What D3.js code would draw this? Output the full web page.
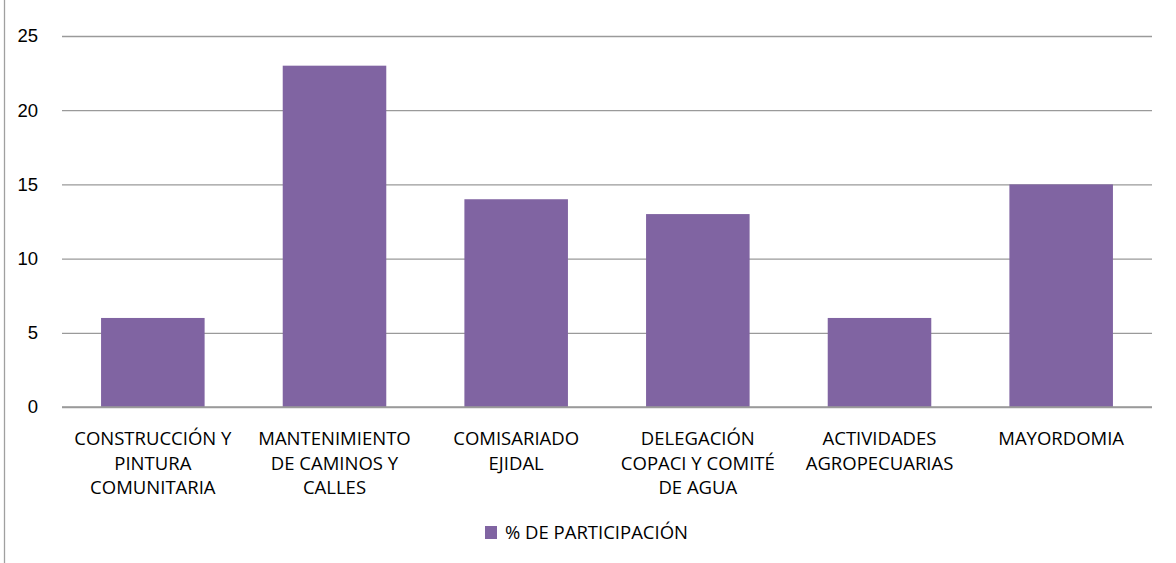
<!DOCTYPE html>
<html>
<head>
<meta charset="utf-8">
<script src="https://cdn.jsdelivr.net/npm/d3@7/dist/d3.min.js"></script>
<style>
  body { margin: 0; background: #fff; }
  svg { display: block; font-family: "Open Sans", "Liberation Sans", sans-serif; }
  .grid line { stroke: #9a9a9a; stroke-width: 1.3; }
  .grid .domain { display: none; }
  .tick text { fill: #000; }
</style>
</head>
<body>
<svg width="1176" height="563"></svg>
<script>
const categories = [
  'CONSTRUCCIÓN Y\nPINTURA\nCOMUNITARIA',
  'MANTENIMIENTO\nDE CAMINOS Y\nCALLES',
  'COMISARIADO\nEJIDAL',
  'DELEGACIÓN\nCOPACI Y COMITÉ\nDE AGUA',
  'ACTIVIDADES\nAGROPECUARIAS',
  'MAYORDOMIA'
]
const values = [6, 23, 14, 13, 6, 15]
const yTicks = [0, 5, 10, 15, 20, 25]
const seriesName = '% DE PARTICIPACIÓN'
const barColor = '#8064a2'
const fontSize = 18.5

const svg = d3.select('svg'),
  margin = {top:36,right:24,bottom:156,left:62},
  width = svg.attr('width') - margin.left - margin.right,
  height = svg.attr('height') - margin.top - margin.bottom

// left border of the chart area
svg.append('line')
  .attr('x1',4.5).attr('x2',4.5)
  .attr('y1',0).attr('y2',563)
  .attr('stroke','#a0a0a0')
  .attr('stroke-width',1.3)

const container = svg.append('g')
  .attr('transform',`translate(${margin.left},${margin.top})`)

const x = d3.scaleBand().domain(categories).range([0,width]).paddingInner(0.43).paddingOuter(0.215)
const y = d3.scaleLinear().domain([0,25]).range([height,0])

const grid = container.append('g')
  .attr('class','grid')
  .call(d3.axisLeft(y).tickValues(yTicks).tickSize(-width).tickPadding(0))
grid.selectAll('.tick text')
  .attr('x',-24)
  .attr('font-size',fontSize)
  .attr('text-anchor','end')

container.selectAll('.bar').data(values)
  .enter().append('rect')
  .attr('class','bar')
  .attr('x',(d,i) => x(categories[i]))
  .attr('width',x.bandwidth())
  .attr('y',d => y(d))
  .attr('height',d => height - y(d))
  .attr('fill',barColor)

// redraw the baseline above bars
container.append('line')
  .attr('x1',0).attr('x2',width)
  .attr('y1',y(0)).attr('y2',y(0))
  .attr('stroke','#9a9a9a').attr('stroke-width',1.3)

const labels = container.selectAll('.cat').data(categories)
  .enter().append('text')
  .attr('class','cat')
  .attr('text-anchor','middle')
  .attr('font-size',fontSize)
  .attr('fill','#000')
  .attr('transform',d => `translate(${x(d) + x.bandwidth()/2},${height + 38})`)
labels.selectAll('tspan').data(d => d.split('\n'))
  .enter().append('tspan')
  .attr('x',0)
  .attr('y',(d,i) => i*24.5)
  .text(d => d)

const legend = svg.append('g')
  .attr('transform','translate(485,526)')
legend.append('rect')
  .attr('width',12).attr('height',13)
  .attr('fill',barColor)
legend.append('text')
  .attr('x',20).attr('y',13)
  .attr('font-size',fontSize)
  .text(seriesName)
</script>
</body>
</html>
